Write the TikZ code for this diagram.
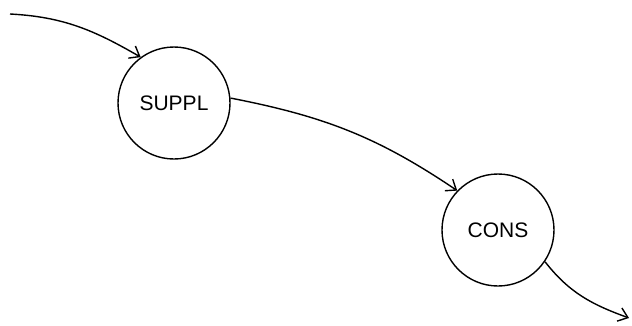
\documentclass[tikz,border=0pt]{standalone}
\usepackage{fontspec}
\setmainfont{Liberation Sans}
\usetikzlibrary{arrows.meta}
\begin{document}
\begin{tikzpicture}[x=1pt,y=-1pt,
  proc/.style={circle,draw,line width=1.4pt,minimum size=112pt,inner sep=0pt,
    font=\fontsize{21}{24}\selectfont},
  flow/.style={line width=1.4pt,-{Straight Barb[length=9pt,width=14pt,line width=1.4pt]}}]
  \useasboundingbox (0,0) rectangle (632,325);
  \node[proc] (suppl) at (174,103) {SUPPL};
  \node[proc] (cons) at (498,230) {CONS};
  \coordinate (src) at (10,14);
  \coordinate (snk) at (629,318);
  \draw[flow] (src) to[out=-3,in=150] (suppl.126);
  \draw[flow] (suppl.5) to[out=-11,in=146] (cons.136);
  \draw[flow] (cons.-34) to[out=-52,in=160] (snk);
\end{tikzpicture}
\end{document}
